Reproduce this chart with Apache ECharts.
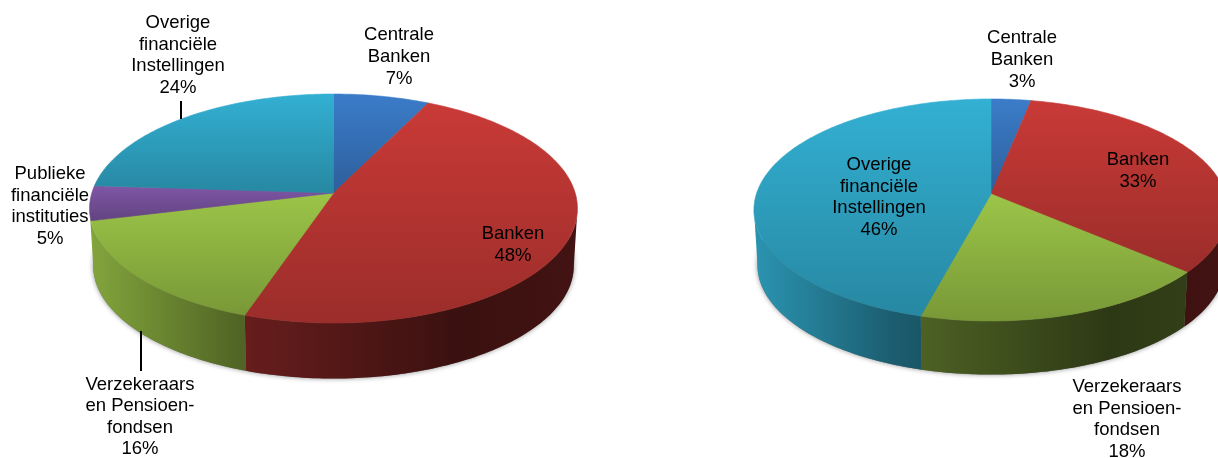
<!DOCTYPE html>
<html>
<head>
<meta charset="utf-8">
<style>html,body{margin:0;padding:0;background:#fff}#c{width:1218px;height:458px}</style>
<script src="https://cdn.jsdelivr.net/npm/echarts@6/dist/echarts.min.js"></script>
</head>
<body>
<div id="c"></div>
<script>
// Sector names and shares, clockwise from twelve o'clock.
var leftCategories = ['Centrale\nBanken', 'Banken', 'Verzekeraars\nen Pensioen-\nfondsen', 'Publieke\nfinanciële\ninstituties', 'Overige\nfinanciële\nInstellingen'];
var leftValues = [7, 48, 16, 5, 24];
var rightCategories = ['Centrale\nBanken', 'Banken', 'Verzekeraars\nen Pensioen-\nfondsen', 'Overige\nfinanciële\nInstellingen'];
var rightValues = [3, 33, 18, 46];

// Slice colours, keyed by the first line of the sector name.
var baseColors = {
  'Centrale': [59, 124, 201],
  'Banken': [201, 58, 55],
  'Verzekeraars': [156, 197, 72],
  'Publieke': [127, 87, 166],
  'Overige': [51, 176, 211]
};

// Disc geometry: apex position, radii, perspective strength, rim depth and scale.
var leftDisc = { cx: 333.5, cy: 193, R: 241.7, S: 112.4, k: 0.1354, depth: 57.5, shrink: 0.985 };
var rightDisc = { cx: 991, cy: 194, R: 234.6, S: 108.7, k: 0.144, depth: 55.5, shrink: 0.985 };

// Small angular correction for the tilted disc, in radians.
var tiltWarp = 0.02;
// Rim pieces narrower than this (radians) merge into the neighbouring slice.
var minRimSpan = 0.18;

// Label block centres, in slice order.
var leftLabelPos = [[399, 57], [513, 245], [140, 417], [50, 206.5], [178, 55.5]];
var rightLabelPos = [[1022, 60], [1138, 171], [1127, 419.5], [879, 197.5]];

// Leader lines from a label to its slice.
var leftLeaders = [[[181, 101], [181, 119]], [[141, 331], [141, 371]]];

function rgb(c, f) {
  return 'rgb(' + Math.round(c[0] * f) + ',' + Math.round(c[1] * f) + ',' + Math.round(c[2] * f) + ')';
}

// Perspective projection of a point on the unit circle; theta runs clockwise from the top.
function project(d, theta, lower) {
  var t = theta + tiltWarp * Math.abs(Math.sin(2 * theta));
  var u = Math.sin(t), v = -Math.cos(t);
  var w = 1 - d.k * v;
  var x = d.R * u / w, y = d.S * v / w;
  if (lower) {
    return [d.cx + x * d.shrink, d.cy + y * d.shrink + d.depth];
  }
  return [d.cx + x, d.cy + y];
}

function arc(d, a0, a1, lower) {
  var pts = [], n = Math.max(2, Math.ceil(Math.abs(a1 - a0) / (Math.PI / 180)));
  for (var i = 0; i <= n; i++) {
    pts.push(project(d, a0 + (a1 - a0) * i / n, lower));
  }
  return pts;
}

function discSeries(disc, values, categories, labelPos, leaders) {
  var total = values.reduce(function (s, v) { return s + v; }, 0);
  var edge = Math.acos(-disc.k);          // where the rim turns towards the viewer
  var rimEnd = 2 * Math.PI - edge;
  var spanL = disc.cx - disc.R * 1.01, spanW = disc.R * 2.02;

  function renderItem(params, api) {
    var i = params.dataIndex;
    var before = 0;
    for (var j = 0; j < i; j++) before += values[j];
    var a0 = before / total * 2 * Math.PI;
    var a1 = (before + api.value(0)) / total * 2 * Math.PI;
    var name = categories[i];
    var base = baseColors[name.split('\n')[0]];
    var children = [];

    // Soft shadow under the whole disc, drawn once.
    if (i === 0) {
      children.push({
        type: 'polygon', z2: 0,
        shape: { points: arc(disc, 0, 2 * Math.PI, true) },
        style: { fill: '#777', shadowBlur: 5, shadowColor: 'rgba(0,0,0,0.45)' }
      });
    }

    // Rim: only the part of the slice facing the viewer.
    var r0 = Math.max(a0, edge), r1 = Math.min(a1, rimEnd);
    if (r1 < rimEnd && rimEnd - r1 < minRimSpan) r1 = rimEnd;
    if (r1 - r0 >= minRimSpan) {
      children.push({
        type: 'polygon', z2: 1,
        shape: { points: arc(disc, r0, r1, false).concat(arc(disc, r1, r0, true)) },
        style: {
          fill: new echarts.graphic.LinearGradient(spanL, 0, spanL + spanW, 0, [
            { offset: 0, color: rgb(base, 0.84) },
            { offset: 0.3, color: rgb(base, 0.52) },
            { offset: 0.75, color: rgb(base, 0.29) },
            { offset: 1, color: rgb(base, 0.33) }
          ], true)
        }
      });
    }

    // Top face.
    var topFill = new echarts.graphic.LinearGradient(0, 0, 0, 1, [
      { offset: 0, color: rgb(base, 1) },
      { offset: 1, color: rgb(base, 0.77) }
    ]);
    children.push({
      type: 'polygon', z2: 2 + i * 0.01,
      shape: { points: [[disc.cx, disc.cy]].concat(arc(disc, a0, a1, false)) },
      style: { fill: topFill, stroke: topFill, lineWidth: 0.6, lineJoin: 'round' }
    });

    // Name and share.
    children.push({
      type: 'text', z2: 10,
      style: {
        text: name + '\n' + api.value(0) + '%',
        x: labelPos[i][0], y: labelPos[i][1],
        align: 'center', verticalAlign: 'middle',
        font: '18.5px "Liberation Sans", Arial, sans-serif',
        lineHeight: 21.6, fill: '#000'
      }
    });

    if (i === 0) {
      leaders.forEach(function (seg) {
        children.push({
          type: 'line', z2: 9,
          shape: { x1: seg[0][0], y1: seg[0][1], x2: seg[1][0], y2: seg[1][1] },
          style: { stroke: '#000', lineWidth: 2 }
        });
      });
    }
    return { type: 'group', children: children };
  }

  return {
    type: 'custom',
    coordinateSystem: 'none',
    silent: true,
    animation: false,
    clip: false,
    renderItem: renderItem,
    data: values.map(function (v) { return [v]; })
  };
}

var chart = echarts.init(document.getElementById('c'), null, { renderer: 'canvas' });
chart.setOption({
  backgroundColor: '#fff',
  animation: false,
  series: [
    discSeries(leftDisc, leftValues, leftCategories, leftLabelPos, leftLeaders),
    discSeries(rightDisc, rightValues, rightCategories, rightLabelPos, [])
  ]
});
</script>
</body>
</html>
